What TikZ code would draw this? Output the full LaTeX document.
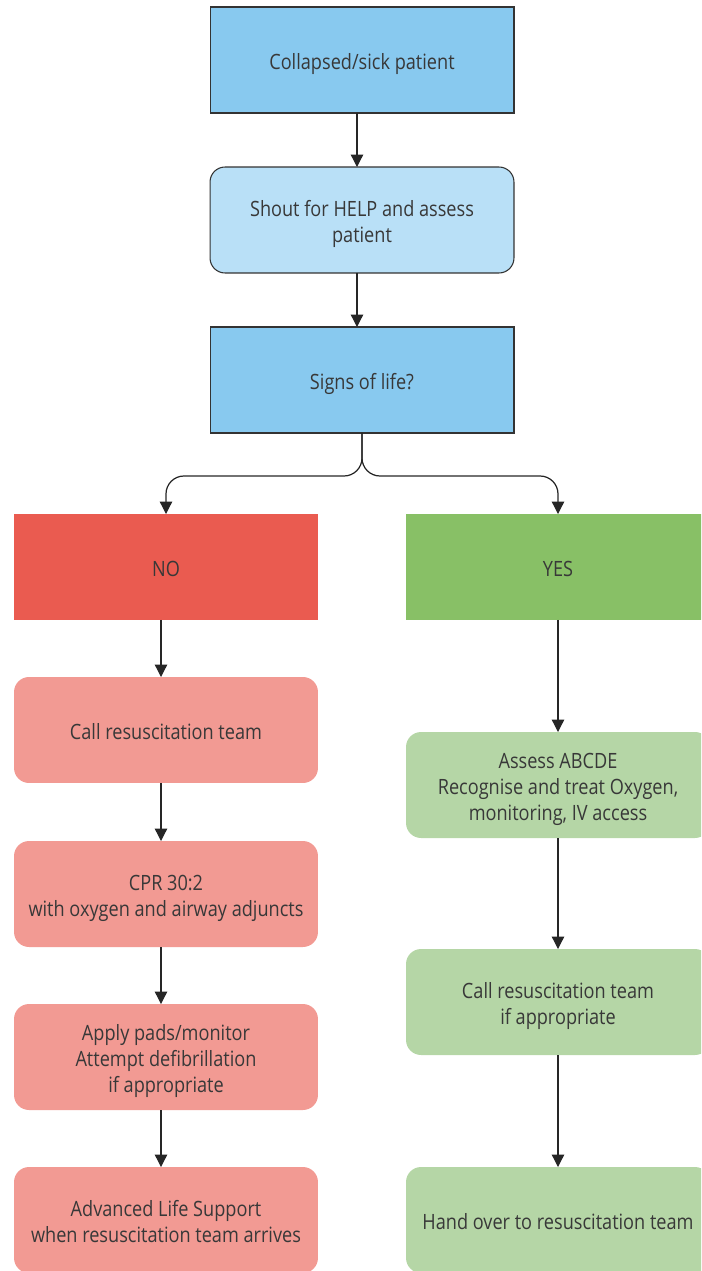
\documentclass[tikz,border=0pt]{standalone}
\usepackage{fontspec}
\setmainfont{Open Sans}[FakeStretch=0.86]
\usetikzlibrary{arrows.meta}

\definecolor{skyblue}{HTML}{88C9EF}
\definecolor{paleblue}{HTML}{B9E0F7}
\definecolor{nored}{HTML}{EA5B50}
\definecolor{pinkred}{HTML}{F29A93}
\definecolor{yesgreen}{HTML}{88C066}
\definecolor{palegreen}{HTML}{B5D6A6}
\definecolor{inktext}{HTML}{383838}

% centred lines, set a little below the middle of the box
\newcommand{\steptext}[1]{\raisebox{-0.08cm}[\height][\depth]{\begin{tabular}{@{}c@{}}#1\end{tabular}}}

\begin{document}
\begin{tikzpicture}[
      x=0.02cm, y=-0.02cm,
      box/.style={minimum width=6.08cm, minimum height=2.12cm, inner sep=0pt,
        outer sep=0pt, text=inktext,
        font=\fontsize{12}{14.8}\selectfont},
      sharpbox/.style={box, draw=black!80, line width=0.6pt, fill=skyblue},
      softbox/.style={box, draw=black!80, line width=0.6pt, fill=paleblue,
        rounded corners=0.3cm},
      nobox/.style={box, fill=nored},
      yesbox/.style={box, fill=yesgreen},
      redstep/.style={box, fill=pinkred, rounded corners=0.3cm},
      greenstep/.style={box, fill=palegreen, rounded corners=0.3cm},
      arrow/.style={-{Triangle[width=7pt,length=7pt]}, line width=0.7pt,
        draw=black!85}
    ]
    \clip (0,0) rectangle (701,1271);

    % top of the chart
    \node[sharpbox] (collapsed) at (362,60) {\steptext{Collapsed/sick patient}};
    \node[softbox] (shout) at (362,220) {\steptext{Shout for HELP and assess\\patient}};
    \node[sharpbox] (signs) at (362,380) {\steptext{Signs of life?}};

    % the two answers
    \node[nobox] (no) at (166,567) {\steptext{NO}};
    \node[yesbox] (yes) at (558,567) {\steptext{YES}};

    % no signs of life
    \node[redstep] (callteam) at (166,730) {\steptext{Call resuscitation team}};
    \node[redstep] (cpr) at (166,894) {\steptext{CPR 30:2\\with oxygen and airway adjuncts}};
    \node[redstep] (pads) at (166,1057) {\steptext{Apply pads/monitor\\Attempt defibrillation\\if appropriate}};
    \node[redstep] (als) at (166,1220) {\steptext{Advanced Life Support\\when resuscitation team arrives}};

    % signs of life
    \node[greenstep] (assess) at (558,785) {\steptext{Assess ABCDE\\Recognise and treat Oxygen,\\monitoring, IV access}};
    \node[greenstep] (callif) at (558,1002) {\steptext{Call resuscitation team\\if appropriate}};
    \node[greenstep] (handover) at (558,1220) {\steptext{Hand over to resuscitation team}};

    % arrows down each column
    \foreach \a/\b in {collapsed/shout, shout/signs, no/callteam,
        callteam/cpr, cpr/pads, pads/als} {
      \draw[arrow] ([xshift=-0.1cm]\a.south) -- ([xshift=-0.1cm]\b.north);
    }
    \foreach \a/\b in {yes/assess, assess/callif, callif/handover} {
      \draw[arrow] (\a.south) -- (\b.north);
    }

    % split below the question
    \draw[arrow, rounded corners=0.36cm] (signs.south) -- ++(0,43) -| (no.north);
    \draw[arrow, rounded corners=0.36cm] (signs.south) -- ++(0,43) -| (yes.north);
  \end{tikzpicture}
\end{document}
